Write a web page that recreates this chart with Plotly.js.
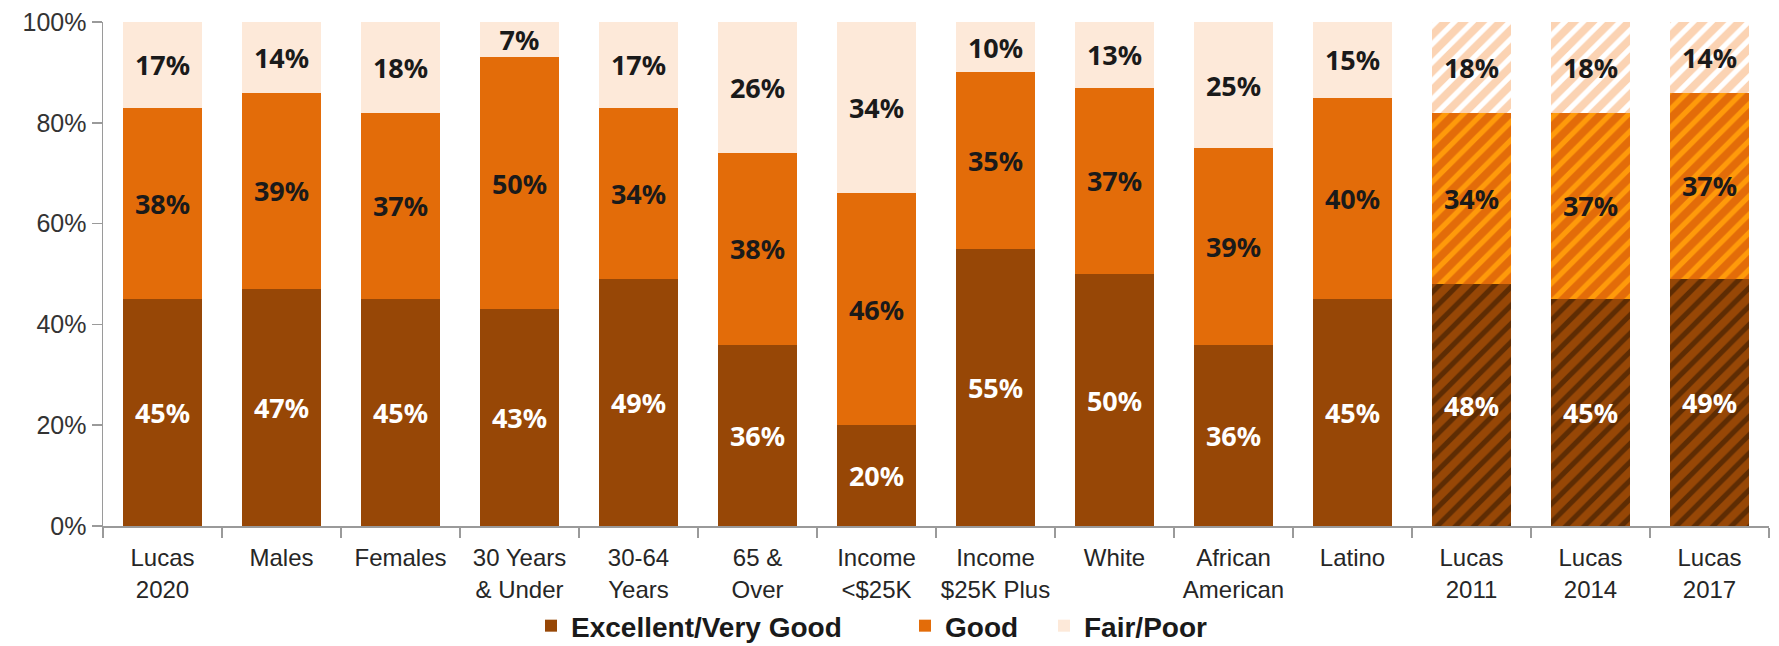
<!DOCTYPE html>
<html>
<head>
<meta charset="utf-8">
<script src="https://cdn.plot.ly/plotly-3.0.1.min.js"></script>
<style>
  html, body { margin: 0; padding: 0; background: #fff; }
  #chart { width: 1779px; height: 646px; }
</style>
</head>
<body>
<div id="chart"></div>
<script>
// categories along the x axis
const categories = [
    'Lucas<br>2020', 'Males', 'Females', '30 Years<br>&amp; Under', '30-64<br>Years',
    '65 &amp;<br>Over', 'Income<br>&lt;$25K', 'Income<br>$25K Plus', 'White',
    'African<br>American', 'Latino', 'Lucas<br>2011', 'Lucas<br>2014', 'Lucas<br>2017'
];

// share of adults, %
const excellentVeryGood = [45, 47, 45, 43, 49, 36, 20, 55, 50, 36, 45, 48, 45, 49];
const good = [38, 39, 37, 50, 34, 38, 46, 35, 37, 39, 40, 34, 37, 37];
const fairPoor = [17, 14, 18, 7, 17, 26, 34, 10, 13, 25, 15, 18, 18, 14];

// earlier survey years are drawn hatched
const hatched = [false, false, false, false, false, false, false, false, false, false, false, true, true, true];

const tickFont = '"Liberation Sans", Arial, sans-serif';
const labelFont = '"Noto Sans", "DejaVu Sans", sans-serif';

// marker.color stays a single colour: an array colour would override the pattern colours
function makeTrace(name, legendId, values, color, stripeBg, stripeFg, solidity, textColor) {
    return {
        type: 'bar',
        name: name,
        legend: legendId,
        x: categories,
        y: values,
        text: values.map(v => v + '%'),
        textposition: 'inside',
        insidetextanchor: 'middle',
        textangle: 0,
        constraintext: 'none',
        insidetextfont: { family: labelFont, size: 27, color: textColor, weight: 'bold' },
        hoverinfo: 'x+y',
        marker: {
            color: color,
            line: { width: 0 },
            pattern: {
                shape: hatched.map(h => h ? '/' : ''),
                fillmode: 'replace',
                bgcolor: stripeBg,
                fgcolor: stripeFg,
                size: 13,
                solidity: solidity
            }
        }
    };
}

const traces = [
    makeTrace('Excellent/Very Good', 'legend', excellentVeryGood, '#974706', '#974706', '#5e2c03', 0.4, '#ffffff'),
    makeTrace('Good', 'legend2', good, '#E36C09', '#E36C09', '#FF9A0A', 0.4, '#1a1a1a'),
    makeTrace('Fair/Poor', 'legend3', fairPoor, '#FDE9D9', '#FFFFFF', '#FBD3B3', 0.6, '#1a1a1a')
];

// one legend per series so each entry sits where it does in the original
function legendAt(x) {
    return {
        orientation: 'h',
        x: x,
        xref: 'container',
        xanchor: 'left',
        y: 0.031,
        yref: 'container',
        yanchor: 'middle',
        bgcolor: 'rgba(0,0,0,0)',
        font: { family: tickFont, size: 28, color: '#1a1a1a', weight: 'bold' },
        itemclick: false
    };
}

const layout = {
    width: 1779,
    height: 646,
    barmode: 'stack',
    bargap: 0.34,
    paper_bgcolor: '#ffffff',
    plot_bgcolor: '#ffffff',
    margin: { t: 22, b: 120, l: 103, r: 10 },
    showlegend: true,
    legend: legendAt(531 / 1779),
    legend2: legendAt(905 / 1779),
    legend3: legendAt(1044 / 1779),
    xaxis: {
        type: 'category',
        showline: true,
        linecolor: '#9a9a9a',
        linewidth: 1.5,
        ticks: 'outside',
        tickson: 'boundaries',
        ticklen: 10,
        tickcolor: '#9a9a9a',
        tickwidth: 1.5,
        tickangle: 0,
        ticklabelstandoff: 10,
        showgrid: false,
        tickfont: { family: tickFont, size: 24, color: '#262626' }
    },
    yaxis: {
        range: [0, 100],
        dtick: 20,
        ticksuffix: '%',
        showline: true,
        linecolor: '#9a9a9a',
        linewidth: 1.5,
        ticks: 'outside',
        ticklen: 10,
        tickcolor: '#9a9a9a',
        tickwidth: 1.5,
        showgrid: false,
        zeroline: false,
        tickfont: { family: tickFont, size: 25, color: '#333333' }
    }
};

Plotly.newPlot('chart', traces, layout, { displayModeBar: false, staticPlot: true });
</script>
</body>
</html>
